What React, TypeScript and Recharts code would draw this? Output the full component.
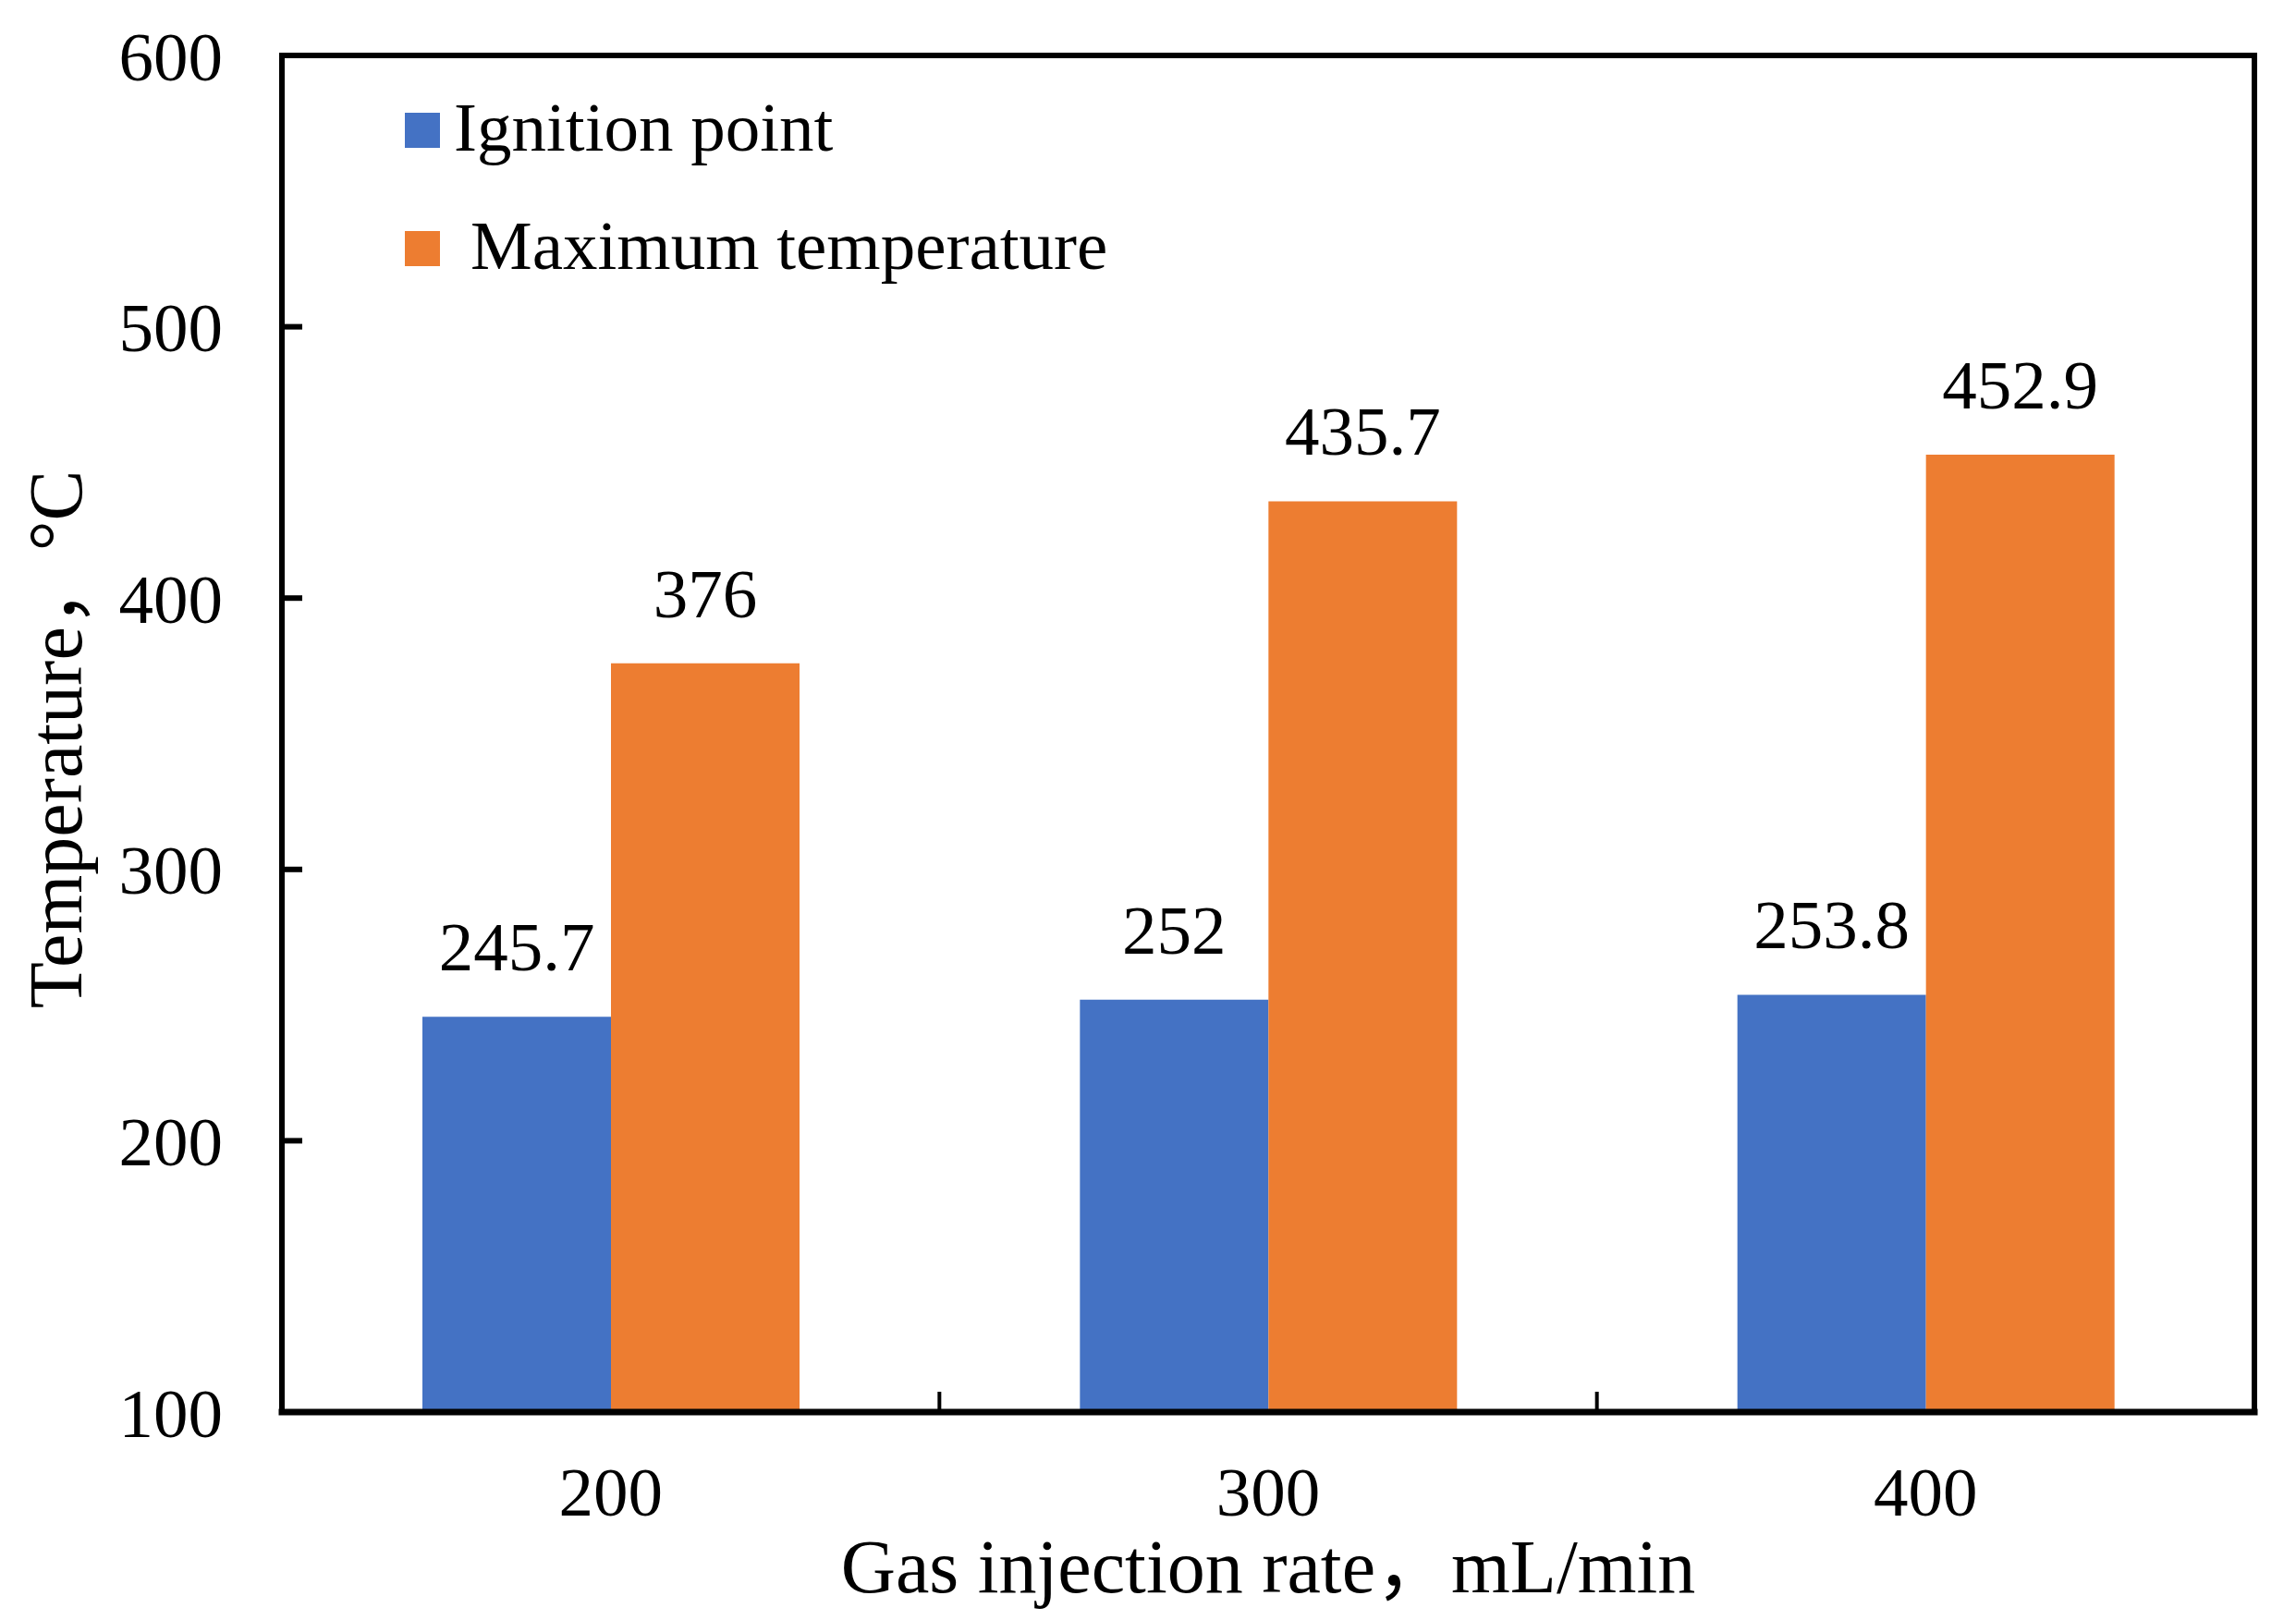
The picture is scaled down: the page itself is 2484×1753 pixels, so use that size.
import React from "react";
import {
  BarChart,
  Bar,
  XAxis,
  YAxis,
  Legend,
  LabelList,
  CartesianGrid,
} from "recharts";

const rates = ["200", "300", "400"];
const ignitionPoint = [245.7, 252, 253.8];
const maxTemperature = [376, 435.7, 452.9];
const yTicks = [100, 200, 300, 400, 500, 600];

const seriesNames = ["Ignition point", "Maximum temperature"];
const xTitle = "Gas injection rate，mL/min";
const yTitle = "Temperature，°C";

const FONT = "'Liberation Serif', 'Times New Roman', 'Noto Sans CJK SC', serif";
const BLUE = "#4472C4";
const ORANGE = "#ED7D31";
const X_TICK_MARGIN = 59;

const data = rates.map((r, i) => ({
  rate: r,
  ignition: ignitionPoint[i],
  maximum: maxTemperature[i],
}));

// category label plus the small inward tick at the right edge of each band
// eslint-disable-next-line @typescript-eslint/no-explicit-any
function XTick(props: any) {
  const { x, y, payload, index, visibleTicksCount } = props;
  const axisY = y - X_TICK_MARGIN;
  const half = payload.offset ?? 0;
  return (
    <g>
      <text
        x={x}
        y={y}
        dy="0.71em"
        textAnchor="middle"
        fontSize={75}
        fontFamily={FONT}
        fill="#000"
      >
        {payload.value}
      </text>
      {index < visibleTicksCount - 1 && (
        <line
          x1={x + half}
          x2={x + half}
          y1={axisY}
          y2={axisY - 22}
          stroke="#000"
          strokeWidth={4}
        />
      )}
    </g>
  );
}

// eslint-disable-next-line @typescript-eslint/no-explicit-any
function YTitle({ viewBox }: any) {
  const cx = viewBox.x + 88;
  const cy = viewBox.y + viewBox.height / 2 + 6;
  return (
    <text
      x={cx}
      y={cy}
      transform={`rotate(-90 ${cx} ${cy})`}
      textAnchor="middle"
      fontSize={82}
      fontFamily={FONT}
      fill="#000"
    >
      {yTitle}
    </text>
  );
}

const legendGaps = [15, 33];

// eslint-disable-next-line @typescript-eslint/no-explicit-any
function LegendContent({ payload }: any) {
  if (!payload) return null;
  return (
    <div>
      {/* eslint-disable-next-line @typescript-eslint/no-explicit-any */}
      {payload.map((entry: any, i: number) => (
        <div
          key={entry.value}
          style={{ display: "flex", alignItems: "center", height: 128 }}
        >
          <div style={{ width: 38, height: 38, background: entry.color }} />
          <span
            style={{
              marginLeft: legendGaps[i] ?? 15,
              fontSize: 75,
              fontFamily: FONT,
              color: "#000",
              position: "relative",
              top: -3,
              whiteSpace: "nowrap",
            }}
          >
            {entry.value}
          </span>
        </div>
      ))}
    </div>
  );
}

const axisStroke = { stroke: "#000", strokeWidth: 6, strokeLinecap: "square" };

export default function App() {
  return (
    <div
      style={{
        position: "absolute",
        left: 0,
        top: 0,
        width: 2484,
        height: 1753,
        background: "#fff",
      }}
    >
      <BarChart
        width={2484}
        height={1753}
        data={data}
        margin={{ top: 60, right: 45, left: 0, bottom: 0 }}
        barGap={0}
      >
        {/* top and right frame lines of the plot area */}
        <CartesianGrid
          stroke="#000"
          strokeWidth={6}
          strokeLinecap="square"
          // eslint-disable-next-line @typescript-eslint/no-explicit-any
          horizontalCoordinatesGenerator={({ offset }: any) => [offset.top]}
          // eslint-disable-next-line @typescript-eslint/no-explicit-any
          verticalCoordinatesGenerator={({ offset }: any) => [
            offset.left + offset.width,
          ]}
        />
        <XAxis
          dataKey="rate"
          height={225}
          tickSize={0}
          tickMargin={X_TICK_MARGIN}
          tickLine={false}
          tick={<XTick />}
          axisLine={{ ...axisStroke, strokeWidth: 7 }}
          label={{
            value: xTitle,
            position: "insideBottom",
            offset: 30,
            fontSize: 82,
            fontFamily: FONT,
            fill: "#000",
          }}
        />
        <YAxis
          width={305}
          type="number"
          domain={[100, 600]}
          ticks={yTicks}
          interval={0}
          tickSize={-22}
          tickMargin={86}
          tickLine={{ stroke: "#000", strokeWidth: 6 }}
          axisLine={axisStroke}
          tick={{ fontSize: 75, fontFamily: FONT, fill: "#000" }}
          label={<YTitle />}
        />
        <Legend
          layout="vertical"
          align="center"
          verticalAlign="middle"
          wrapperStyle={{ left: 438, top: 77, width: "auto", height: "auto" }}
          content={<LegendContent />}
        />
        <Bar
          dataKey="ignition"
          name={seriesNames[0]}
          fill={BLUE}
          barSize={204}
          isAnimationActive={false}
        >
          <LabelList
            dataKey="ignition"
            position="top"
            offset={50}
            fontSize={75}
            fontFamily={FONT}
            fill="#000"
          />
        </Bar>
        <Bar
          dataKey="maximum"
          name={seriesNames[1]}
          fill={ORANGE}
          barSize={204}
          isAnimationActive={false}
        >
          <LabelList
            dataKey="maximum"
            position="top"
            offset={50}
            fontSize={75}
            fontFamily={FONT}
            fill="#000"
          />
        </Bar>
      </BarChart>
    </div>
  );
}
